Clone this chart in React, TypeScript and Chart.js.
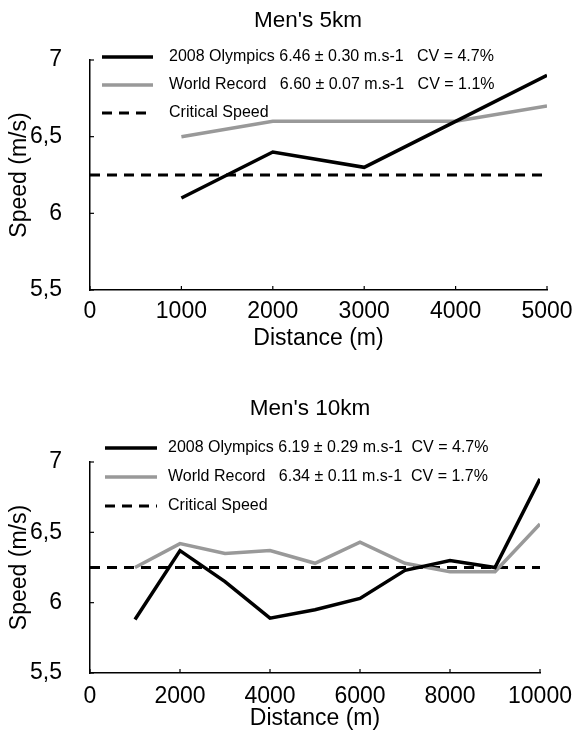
import React, { useEffect, useRef } from "react";
import { Chart, registerables } from "chart.js";

Chart.register(...registerables);

const FONT = '"Liberation Sans", Arial, Helvetica, sans-serif';

// ---- Data ----
const distances5k = [1000, 2000, 3000, 4000, 5000];
const olympics5k = [6.1, 6.4, 6.3, 6.6, 6.9];
const worldRecord5k = [6.5, 6.6, 6.6, 6.6, 6.7];
const criticalRange5k = [0, 5000];

const distances10k = [1000, 2000, 3000, 4000, 5000, 6000, 7000, 8000, 9000, 10000];
const olympics10k = [5.88, 6.37, 6.15, 5.89, 5.95, 6.03, 6.23, 6.3, 6.25, 6.88];
const worldRecord10k = [6.25, 6.42, 6.35, 6.37, 6.28, 6.43, 6.28, 6.22, 6.22, 6.56];
const criticalRange10k = [0, 10000];

const criticalSpeed = 6.25;

const yTickValues = [5.5, 6, 6.5, 7];
const yTickLabels = ["5,5", "6", "6,5", "7"];
const xTickValues5k = [0, 1000, 2000, 3000, 4000, 5000];
const xTickLabels5k = ["0", "1000", "2000", "3000", "4000", "5000"];
const xTickValues10k = [0, 2000, 4000, 6000, 8000, 10000];
const xTickLabels10k = ["0", "2000", "4000", "6000", "8000", "10000"];

const legend5k = [
  "2008 Olympics 6.46 \u00b1 0.30 m.s-1   CV = 4.7%",
  "World Record   6.60 \u00b1 0.07 m.s-1   CV = 1.1%",
  "Critical Speed",
];
const legend10k = [
  "2008 Olympics 6.19 \u00b1 0.29 m.s-1  CV = 4.7%",
  "World Record   6.34 \u00b1 0.11 m.s-1  CV = 1.7%",
  "Critical Speed",
];

// ---- Plugins ----
const titlePlugin = {
  id: "customTitle",
  afterDraw(chart: any, _args: any, opts: any) {
    const { ctx } = chart;
    ctx.save();
    ctx.font = `${opts.size}px ${FONT}`;
    ctx.fillStyle = "#000";
    ctx.textAlign = "center";
    ctx.textBaseline = "middle";
    ctx.fillText(opts.text, opts.x, opts.y);
    ctx.restore();
  },
};

const legendPlugin = {
  id: "customLegend",
  afterDatasetsDraw(chart: any, _args: any, opts: any) {
    const { ctx, chartArea } = chart;
    ctx.save();
    ctx.font = `${opts.size}px ${FONT}`;
    ctx.textAlign = "left";
    ctx.textBaseline = "middle";
    chart.data.datasets.forEach((ds: any, i: number) => {
      const y = chartArea.top + opts.offsetY + i * opts.rowGap;
      const x0 = chartArea.left + opts.offsetX;
      ctx.strokeStyle = ds.borderColor;
      ctx.lineWidth = ds.borderWidth;
      ctx.setLineDash(ds.borderDash || []);
      ctx.lineCap = "butt";
      ctx.beginPath();
      ctx.moveTo(x0, y);
      ctx.lineTo(x0 + opts.lineLen, y);
      ctx.stroke();
      ctx.setLineDash([]);
      ctx.fillStyle = "#000";
      ctx.fillText(ds.label, x0 + opts.textGap, y);
    });
    ctx.restore();
  },
};

const tickMarkPlugin = {
  id: "inwardTicks",
  afterDraw(chart: any) {
    const { ctx, chartArea, scales } = chart;
    ctx.save();
    ctx.strokeStyle = "#000";
    ctx.lineWidth = 1.2;
    scales.x.ticks.forEach((t: any) => {
      const px = scales.x.getPixelForValue(t.value);
      ctx.beginPath();
      ctx.moveTo(px, chartArea.bottom);
      ctx.lineTo(px, chartArea.bottom - 4);
      ctx.stroke();
    });
    scales.y.ticks.forEach((t: any) => {
      const py = scales.y.getPixelForValue(t.value);
      ctx.beginPath();
      ctx.moveTo(chartArea.left, py);
      ctx.lineTo(chartArea.left + 4, py);
      ctx.stroke();
    });
    ctx.restore();
  },
};

type PanelProps = {
  title: string;
  distances: number[];
  olympics: number[];
  worldRecord: number[];
  criticalRange: number[];
  legendLabels: string[];
  xMax: number;
  xTickValues: number[];
  xTickLabels: string[];
  layout: {
    top: number;
    right: number;
    xHeight: number;
    xTickPad: number;
    xTitlePad: number;
    titleX: number;
    titleY: number;
    legendX: number;
    legendY: number;
    legendGap: number;
    legendTextGap: number;
    legendLineLen: number;
  };
};

function Panel(p: PanelProps) {
  const ref = useRef<HTMLCanvasElement>(null);
  useEffect(() => {
    if (!ref.current) return;
    const L = p.layout;
    const chart = new Chart(ref.current, {
      type: "line",
      data: {
        datasets: [
          {
            label: p.legendLabels[0],
            data: p.distances.map((d, i) => ({ x: d, y: p.olympics[i] })),
            borderColor: "#000000",
            borderWidth: 3.5,
            pointRadius: 0,
            tension: 0,
          },
          {
            label: p.legendLabels[1],
            data: p.distances.map((d, i) => ({ x: d, y: p.worldRecord[i] })),
            borderColor: "#999999",
            borderWidth: 3.5,
            pointRadius: 0,
            tension: 0,
          },
          {
            label: p.legendLabels[2],
            data: p.criticalRange.map((d) => ({ x: d, y: criticalSpeed })),
            borderColor: "#000000",
            borderWidth: 3,
            borderDash: [10, 7],
            pointRadius: 0,
            tension: 0,
          },
        ],
      },
      options: {
        responsive: false,
        animation: false,
        devicePixelRatio: 1,
        layout: { padding: { top: L.top, right: L.right, left: 0, bottom: 0 } },
        plugins: {
          legend: { display: false },
          title: { display: false },
          tooltip: { enabled: false },
          customTitle: { text: p.title, size: 22.5, x: L.titleX, y: L.titleY },
          customLegend: {
            size: 16,
            offsetX: L.legendX,
            offsetY: L.legendY,
            rowGap: L.legendGap,
            textGap: L.legendTextGap,
            lineLen: L.legendLineLen,
          },
        } as any,
        scales: {
          x: {
            type: "linear",
            min: 0,
            max: p.xMax,
            grid: { display: false },
            border: { display: true, color: "#000", width: 1.5 },
            afterBuildTicks: (scale: any) => {
              scale.ticks = p.xTickValues.map((v) => ({ value: v }));
            },
            afterFit: (scale: any) => {
              scale.height = L.xHeight;
              scale.paddingLeft = 0;
              scale.paddingRight = 0;
            },
            ticks: {
              color: "#000",
              font: { family: FONT, size: 23 },
              padding: L.xTickPad,
              maxRotation: 0,
              autoSkip: false,
              callback: (_v: any, i: number) => p.xTickLabels[i],
            },
            title: {
              display: true,
              text: "Distance (m)",
              color: "#000",
              font: { family: FONT, size: 23 },
              padding: { top: 0, bottom: L.xTitlePad },
            },
          },
          y: {
            type: "linear",
            min: 5.5,
            max: 7,
            grid: { display: false },
            border: { display: true, color: "#000", width: 1.5 },
            afterBuildTicks: (scale: any) => {
              scale.ticks = yTickValues.map((v) => ({ value: v }));
            },
            afterFit: (scale: any) => {
              scale.width = 90;
              scale.paddingTop = 0;
              scale.paddingBottom = 0;
            },
            ticks: {
              color: "#000",
              font: { family: FONT, size: 23 },
              padding: 20,
              autoSkip: false,
              callback: (_v: any, i: number) => yTickLabels[i],
            },
            title: {
              display: true,
              text: "Speed (m/s)",
              color: "#000",
              font: { family: FONT, size: 23 },
              padding: { top: 6, bottom: 0 },
            },
          },
        },
      } as any,
      plugins: [titlePlugin, legendPlugin, tickMarkPlugin],
    });
    return () => chart.destroy();
  }, []);
  return (
    <div style={{ position: "relative", width: 572, height: 368 }}>
      <canvas ref={ref} width={572} height={368} style={{ display: "block" }} />
    </div>
  );
}

export default function App() {
  return (
    <div
      style={{
        position: "absolute",
        left: 0,
        top: 0,
        width: 572,
        height: 736,
        background: "#fff",
      }}
    >
      <Panel
        title="Men's 5km"
        distances={distances5k}
        olympics={olympics5k}
        worldRecord={worldRecord5k}
        criticalRange={criticalRange5k}
        legendLabels={legend5k}
        xMax={5000}
        xTickValues={xTickValues5k}
        xTickLabels={xTickLabels5k}
        layout={{
          top: 60,
          right: 25,
          xHeight: 78,
          xTickPad: 0,
          xTitlePad: 16,
          titleX: 308,
          titleY: 21,
          legendX: 12,
          legendY: -3,
          legendGap: 28,
          legendTextGap: 67,
          legendLineLen: 51,
        }}
      />
      <Panel
        title="Men's 10km"
        distances={distances10k}
        olympics={olympics10k}
        worldRecord={worldRecord10k}
        criticalRange={criticalRange10k}
        legendLabels={legend10k}
        xMax={10000}
        xTickValues={xTickValues10k}
        xTickLabels={xTickLabels10k}
        layout={{
          top: 94,
          right: 32,
          xHeight: 63,
          xTickPad: 2,
          xTitlePad: 4,
          titleX: 310,
          titleY: 41,
          legendX: 15,
          legendY: -14,
          legendGap: 29,
          legendTextGap: 63,
          legendLineLen: 52,
        }}
      />
    </div>
  );
}
